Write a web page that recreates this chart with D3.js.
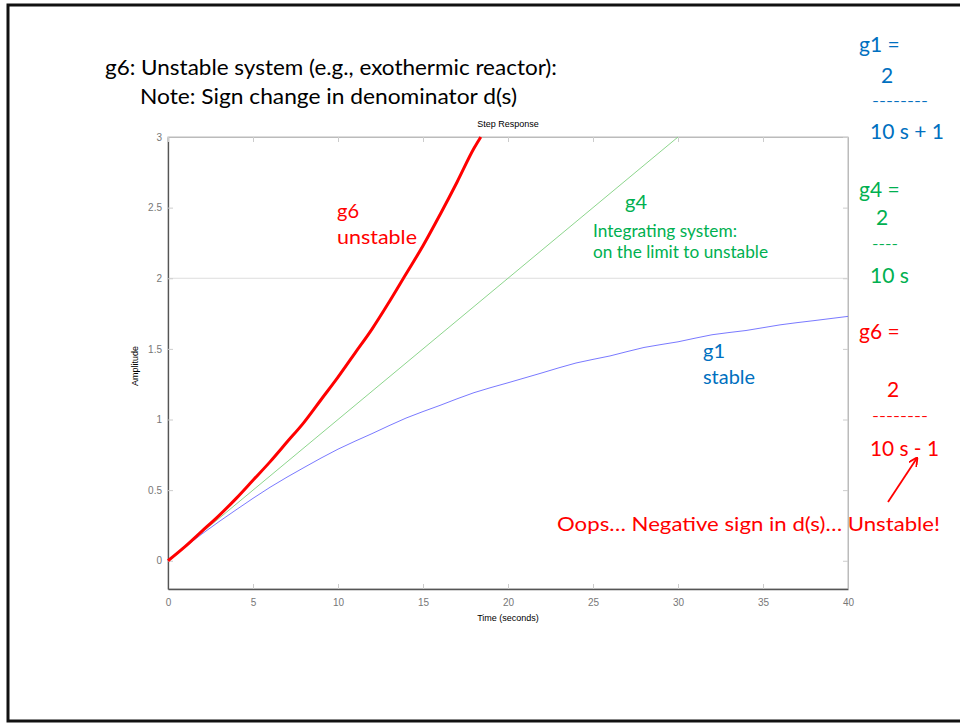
<!DOCTYPE html>
<html>
<head>
<meta charset="utf-8">
<script src="https://cdn.jsdelivr.net/npm/d3@7"></script>
<style>
  body { margin: 0; background: #fff; }
  svg { display: block; }
</style>
</head>
<body>
<svg id="chart" width="960" height="723"></svg>
<script>
// step responses
const g1Time = [0, 2, 4, 6, 8, 10, 12, 14, 16, 18, 20, 22, 24, 26, 28, 30, 32, 34, 36, 38, 40];
const g1Amp = [0, 0.19, 0.36, 0.52, 0.66, 0.79, 0.90, 1.01, 1.10, 1.19, 1.26, 1.33, 1.40, 1.45, 1.51, 1.55, 1.60, 1.63, 1.67, 1.70, 1.73];
const g4Time = [0, 30];
const g4Amp = [0, 3];
const g6Time = [0, 1, 2, 3, 4, 5, 6, 7, 8, 9, 10, 11, 12, 13, 14, 15, 16, 17, 18, 18.4];
const g6Amp = [0, 0.10, 0.21, 0.32, 0.44, 0.57, 0.70, 0.84, 0.98, 1.14, 1.30, 1.47, 1.64, 1.83, 2.03, 2.23, 2.45, 2.68, 2.92, 3.0];

const xTicks = [0, 5, 10, 15, 20, 25, 30, 35, 40];
const yTicks = [0, 0.5, 1, 1.5, 2, 2.5, 3];

const svg = d3.select('#chart');

// slide frame
svg.append('path')
  .attr('d', 'M960,5 L8,5 L8,721 L960,721')
  .attr('fill', 'none')
  .attr('stroke', '#111')
  .attr('stroke-width', 3);

const plot = {left: 168, right: 848, top: 137, bottom: 589};

const x = d3.scaleLinear().domain([0, 40]).range([plot.left, plot.right]);
const y = d3.scaleLinear().domain([-0.2, 3]).range([plot.bottom, plot.top]);

// box
svg.append('rect')
  .attr('x', plot.left).attr('y', plot.top)
  .attr('width', plot.right - plot.left).attr('height', plot.bottom - plot.top)
  .attr('fill', 'none').attr('stroke', '#bbb').attr('stroke-width', 1);

// only visible grid line
svg.append('line')
  .attr('x1', plot.left).attr('x2', plot.right)
  .attr('y1', y(2)).attr('y2', y(2))
  .attr('stroke', '#ddd').attr('stroke-width', 1.2);

const tickFont = 'Liberation Sans, Arial, sans-serif';
const fmt = d3.format('~g');

const xAxis = svg.append('g')
  .attr('transform', `translate(0,${plot.bottom})`)
  .call(d3.axisBottom(x).tickValues(xTicks).tickFormat(fmt).tickSize(-5).tickPadding(10).tickSizeOuter(0));
const yAxis = svg.append('g')
  .attr('transform', `translate(${plot.left},0)`)
  .call(d3.axisLeft(y).tickValues(yTicks).tickFormat(fmt).tickSize(-5).tickPadding(6).tickSizeOuter(0));
// mirrored ticks on top and right
svg.append('g')
  .attr('transform', `translate(0,${plot.top})`)
  .call(d3.axisTop(x).tickValues(xTicks).tickSize(-5).tickFormat('').tickSizeOuter(0));
svg.append('g')
  .attr('transform', `translate(${plot.right},0)`)
  .call(d3.axisRight(y).tickValues(yTicks).tickSize(-5).tickFormat('').tickSizeOuter(0));

svg.selectAll('.tick line').attr('stroke', '#ccc');
svg.selectAll('.domain').attr('stroke', '#bbb');
[xAxis, yAxis].forEach(a => {
  a.select('.domain').attr('stroke', '#555').attr('stroke-width', 1.3);
  a.selectAll('text').attr('fill', '#777').style('font-family', tickFont).style('font-size', '10px');
});

svg.append('text')
  .attr('x', 508).attr('y', 127)
  .attr('text-anchor', 'middle')
  .style('font-family', tickFont).style('font-size', '9px')
  .text('Step Response');
svg.append('text')
  .attr('x', 508).attr('y', 621)
  .attr('text-anchor', 'middle')
  .style('font-family', tickFont).style('font-size', '9px')
  .text('Time (seconds)');
svg.append('text')
  .attr('transform', 'translate(138,366) rotate(-90)')
  .attr('text-anchor', 'middle')
  .style('font-family', tickFont).style('font-size', '9px')
  .text('Amplitude');

// curves
const line = d3.line().x(d => x(d[0])).y(d => y(d[1])).curve(d3.curveMonotoneX);
const series = [
  {t: g1Time, a: g1Amp, color: '#6a6aff', width: 0.9},
  {t: g4Time, a: g4Amp, color: '#7fd07f', width: 0.9},
  {t: g6Time, a: g6Amp, color: '#ff0000', width: 3}
];
series.forEach(s => {
  svg.append('path')
    .datum(s.t.map((t, i) => [t, s.a[i]]))
    .attr('d', line)
    .attr('fill', 'none')
    .attr('stroke', s.color)
    .attr('stroke-width', s.width)
    .attr('stroke-linejoin', 'round');
});

// slide text
const font = 'Lato, "Open Sans", sans-serif';
const blue = '#0070c0', green = '#00b050', red = '#ff0000';

const labels = [
  {x: 105, y: 75, s: 21, c: '#000', t: 'g6: Unstable system (e.g., exothermic reactor):', w: 452},
  {x: 140, y: 104, s: 21, c: '#000', t: 'Note: Sign change in denominator d(s)', w: 377},
  {x: 337, y: 218, s: 20, c: red, t: 'g6'},
  {x: 337, y: 244, s: 20, c: red, t: 'unstable', w: 80},
  {x: 625, y: 209, s: 20, c: green, t: 'g4'},
  {x: 593, y: 237, s: 16.5, c: green, t: 'Integrating system:', w: 144},
  {x: 593, y: 258, s: 16.5, c: green, t: 'on the limit to unstable', w: 175},
  {x: 703, y: 358, s: 20, c: blue, t: 'g1'},
  {x: 703, y: 384, s: 20, c: blue, t: 'stable', w: 52},
  {x: 859, y: 52, s: 21, c: blue, t: 'g1 ='},
  {x: 881, y: 83, s: 21, c: blue, t: '2'},
  {x: 872, y: 106, s: 14, c: blue, t: '--------', w: 56},
  {x: 870, y: 139, s: 21, c: blue, t: '10 s + 1', w: 74},
  {x: 859, y: 197, s: 21, c: green, t: 'g4 ='},
  {x: 876, y: 225, s: 21, c: green, t: '2'},
  {x: 872, y: 249, s: 14, c: green, t: '----', w: 26},
  {x: 870, y: 283, s: 21, c: green, t: '10 s', w: 39},
  {x: 859, y: 339, s: 21, c: red, t: 'g6 ='},
  {x: 887, y: 397, s: 21, c: red, t: '2'},
  {x: 872, y: 421, s: 14, c: red, t: '--------', w: 56},
  {x: 870, y: 456, s: 21, c: red, t: '10 s - 1', w: 69},
  {x: 557, y: 531, s: 20, c: red, t: 'Oops\u2026 Negative sign in d(s)\u2026 Unstable!', w: 383}
];
labels.forEach(l => {
  const t = svg.append('text')
    .attr('x', l.x).attr('y', l.y)
    .attr('fill', l.c)
    .style('font-family', font)
    .style('font-size', l.s + 'px')
    .text(l.t);
  if (l.w) t.attr('textLength', l.w).attr('lengthAdjust', 'spacingAndGlyphs');
});

// arrow pointing at the minus sign
svg.append('defs').append('marker')
  .attr('id', 'head')
  .attr('viewBox', '0 0 10 10')
  .attr('refX', 9).attr('refY', 5)
  .attr('markerWidth', 5).attr('markerHeight', 5)
  .attr('orient', 'auto')
  .append('path')
  .attr('d', 'M0,0 L10,5 L0,10')
  .attr('fill', 'none')
  .attr('stroke', red)
  .attr('stroke-width', 2);
svg.append('line')
  .attr('x1', 888).attr('y1', 502)
  .attr('x2', 917).attr('y2', 458)
  .attr('stroke', red)
  .attr('stroke-width', 1.8)
  .attr('marker-end', 'url(#head)');
</script>
</body>
</html>
